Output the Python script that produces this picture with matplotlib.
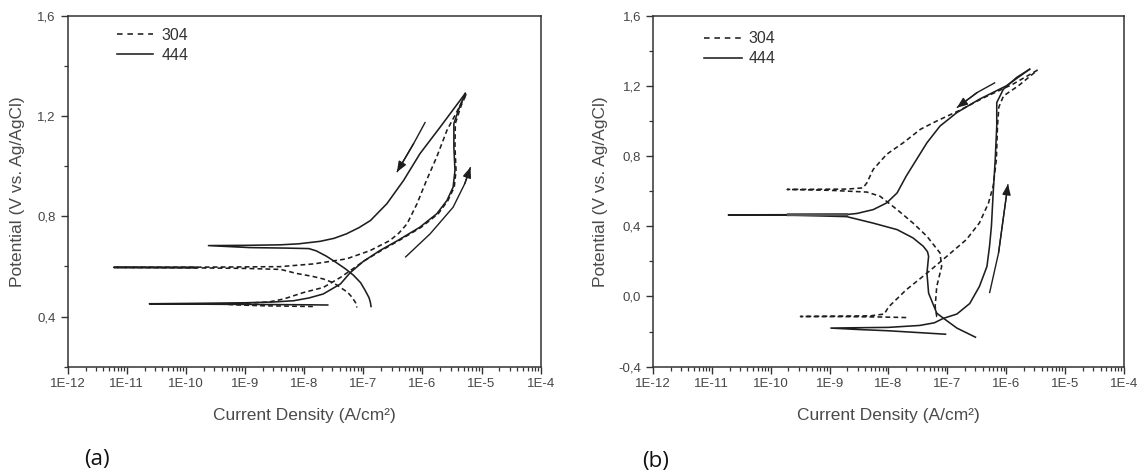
import numpy as np
import matplotlib
matplotlib.use('Agg')
import matplotlib.pyplot as plt
from matplotlib.ticker import LogLocator, FuncFormatter, MultipleLocator, NullFormatter, FixedLocator

plt.rcParams['font.family'] = ['Liberation Sans', 'DejaVu Sans']

# ---------------- data: panel (a) ----------------
a304_fwd_i = [1.4e-8, 7e-9, 2e-9, 8e-10, 3.7e-10, 1e-9, 2.5e-9, 4.5e-9, 9.8e-9, 2.1e-8, 4.1e-8, 6e-8,
              1.05e-7, 2.0e-7, 4.0e-7, 9.5e-7, 1.85e-6, 2.7e-6, 3.45e-6, 3.7e-6, 3.55e-6, 3.6e-6, 4.5e-6, 5.5e-6]
a304_fwd_v = [0.440, 0.441, 0.443, 0.446, 0.450, 0.453, 0.458, 0.470, 0.496, 0.516, 0.556, 0.583,
              0.623, 0.663, 0.703, 0.756, 0.810, 0.863, 0.916, 0.983, 1.076, 1.170, 1.240, 1.287]
a304_rev_i = [5.5e-6, 2.6e-6, 1.74e-6, 1.17e-6, 8.1e-7, 5.5e-7, 4.0e-7, 2.8e-7, 1.3e-7, 5.2e-8, 1.45e-8, 3.9e-9,
              8e-10, 1.5e-10, 6e-12, 1.5e-10, 1e-9, 4e-9, 7.4e-9, 1.4e-8, 2.1e-8, 3.1e-8, 4.1e-8, 5.4e-8,
              6.5e-8, 7.4e-8, 7.8e-8]
a304_rev_v = [1.287, 1.143, 1.036, 0.943, 0.850, 0.770, 0.733, 0.703, 0.663, 0.630, 0.610, 0.599,
              0.598, 0.597, 0.596, 0.594, 0.592, 0.588, 0.572, 0.560, 0.550, 0.535, 0.516, 0.497,
              0.476, 0.455, 0.436]
a444_fwd_i = [2.5e-8, 1e-8, 2e-9, 3e-10, 2.4e-11, 2e-10, 1e-9, 3e-9, 6.6e-9, 1.2e-8, 2.1e-8, 4.1e-8, 6e-8,
              1e-7, 1.9e-7, 3.8e-7, 9e-7, 1.75e-6, 2.6e-6, 3.3e-6, 3.55e-6, 3.4e-6, 3.4e-6, 4.3e-6, 5.3e-6]
a444_fwd_v = [0.446, 0.447, 0.448, 0.449, 0.451, 0.453, 0.455, 0.458, 0.463, 0.474, 0.490, 0.530, 0.575,
              0.620, 0.663, 0.703, 0.756, 0.810, 0.863, 0.916, 0.983, 1.076, 1.170, 1.240, 1.290]
a444_rev_i = [5.3e-6, 2.0e-6, 9.1e-7, 4.8e-7, 2.5e-7, 1.32e-7, 8.5e-8, 5.2e-8, 3.2e-8, 1.86e-8, 8e-9, 3.9e-9,
              1e-9, 2.4e-10, 1.2e-9, 5e-9, 1.2e-8, 1.6e-8, 2.4e-8, 3.5e-8, 5e-8, 6.8e-8, 9e-8, 1.07e-7,
              1.25e-7, 1.32e-7, 1.35e-7]
a444_rev_v = [1.290, 1.156, 1.050, 0.943, 0.850, 0.783, 0.755, 0.730, 0.712, 0.700, 0.690, 0.686,
              0.684, 0.683, 0.675, 0.673, 0.671, 0.662, 0.640, 0.615, 0.590, 0.565, 0.535, 0.505,
              0.475, 0.455, 0.440]
a_arrow1_i = [1.12e-6, 7.1e-7, 3.7e-7]
a_arrow1_v = [1.176, 1.090, 0.976]
a_arrow2_i = [5.1e-7, 1.35e-6, 3.3e-6, 5.2e-6, 6.5e-6]
a_arrow2_v = [0.636, 0.730, 0.836, 0.930, 0.996]

# ---------------- data: panel (b) ----------------
b304_fwd_i = [2e-8, 8e-9, 2e-9, 3.2e-10, 1.5e-9, 5e-9, 8.5e-9, 1.0e-8, 2e-8, 4.5e-8, 9.8e-8, 2.1e-7,
              3.5e-7, 5e-7, 6e-7, 6.8e-7, 7.1e-7, 7.5e-7, 9e-7, 1.6e-6, 3.4e-6]
b304_fwd_v = [-0.120, -0.117, -0.115, -0.114, -0.112, -0.110, -0.100, -0.060, 0.038, 0.133, 0.229, 0.324,
              0.419, 0.533, 0.629, 0.781, 0.971, 1.080, 1.143, 1.200, 1.290]
b304_rev_i = [3.4e-6, 1.3e-6, 4e-7, 1.6e-7, 6.6e-8, 3.5e-8, 1.8e-8, 9.3e-9, 5.5e-9, 4.3e-9, 3.7e-9, 2e-9,
              1.9e-10, 1e-9, 4.3e-9, 7.2e-9, 1.4e-8, 2.6e-8, 4.5e-8, 7.5e-8, 8e-8, 6.6e-8, 6.2e-8, 6.6e-8, 7.5e-8]
b304_rev_v = [1.290, 1.210, 1.130, 1.060, 1.000, 0.953, 0.877, 0.810, 0.724, 0.648, 0.619, 0.612,
              0.610, 0.605, 0.595, 0.571, 0.495, 0.419, 0.343, 0.248, 0.171, 0.057, -0.057, -0.114, -0.120]
b444_fwd_i = [9.3e-8, 3e-8, 9.5e-9, 3e-9, 1.05e-9, 3e-9, 1e-8, 3.4e-8, 6e-8, 8.5e-8, 1.45e-7, 2.4e-7,
              3.5e-7, 4.7e-7, 5.2e-7, 5.6e-7, 6e-7, 6.5e-7, 6.9e-7, 6.9e-7, 8.9e-7, 1.5e-6, 2.5e-6]
b444_fwd_v = [-0.215, -0.205, -0.195, -0.188, -0.180, -0.178, -0.176, -0.165, -0.150, -0.125, -0.100, -0.040,
              0.057, 0.171, 0.286, 0.400, 0.591, 0.781, 0.971, 1.105, 1.180, 1.248, 1.295]
b444_rev_i = [2.5e-6, 1.0e-6, 3.5e-7, 1.45e-7, 7.5e-8, 4.5e-8, 3.0e-8, 2.0e-8, 1.4e-8, 9.3e-9, 5.5e-9,
              2.9e-9, 1.95e-9, 2e-10, 1.9e-11, 2e-10, 1.95e-9, 5.5e-9, 1.4e-8, 2.6e-8, 3.9e-8, 4.6e-8, 4.8e-8,
              4.5e-8, 4.8e-8, 6.6e-8, 8.5e-8, 1.45e-7, 3.0e-7]
b444_rev_v = [1.295, 1.200, 1.124, 1.048, 0.971, 0.876, 0.781, 0.686, 0.590, 0.533, 0.495,
              0.473, 0.467, 0.466, 0.465, 0.464, 0.455, 0.418, 0.381, 0.334, 0.286, 0.255, 0.229,
              0.133, 0.019, -0.095, -0.123, -0.180, -0.232]
b_arrow1_i = [6.5e-7, 3.2e-7, 1.45e-7]
b_arrow1_v = [1.219, 1.162, 1.076]
b_arrow2_i = [5.2e-7, 7.4e-7, 1.07e-6]
b_arrow2_v = [0.019, 0.248, 0.640]

x_decades = [1e-12, 1e-11, 1e-10, 1e-9, 1e-8, 1e-7, 1e-6, 1e-5, 1e-4]
legend_labels = ['304', '444']
panel_labels = ['(a)', '(b)']
xlabel = 'Current Density (A/cm\u00b2)'
ylabel = 'Potential (V vs. Ag/AgCl)'

LC = '#1e1e1e'
DASH = (3.0, 2.0)
LW = 1.15

fig = plt.figure(figsize=(11.46, 4.74), dpi=100)
ax_a = fig.add_axes([0.0591, 0.2264, 0.4127, 0.7405])
ax_b = fig.add_axes([0.5698, 0.2264, 0.4110, 0.7405])


def comma_fmt(v, pos):
    if abs(v) < 1e-9:
        v = 0.0
    return ('%.1f' % v).replace('.', ',')


def dec_fmt(x, pos):
    return '1E%d' % int(round(np.log10(x)))


def style(ax, ylim, ylab_x):
    ax.set_xscale('log')
    ax.set_xlim(x_decades[0], x_decades[-1])
    ax.set_ylim(*ylim)
    ax.xaxis.set_major_locator(FixedLocator(x_decades))
    ax.xaxis.set_major_formatter(FuncFormatter(dec_fmt))
    ax.xaxis.set_minor_locator(LogLocator(base=10, subs=np.arange(2, 10), numticks=20))
    ax.xaxis.set_minor_formatter(NullFormatter())
    ax.yaxis.set_major_locator(MultipleLocator(0.4))
    ax.yaxis.set_minor_locator(MultipleLocator(0.2))
    ax.yaxis.set_major_formatter(FuncFormatter(comma_fmt))
    ax.tick_params(which='both', direction='out', top=False, right=False, color='#333333',
                   labelcolor='#454545', labelsize=9.5, pad=3.5)
    ax.tick_params(which='major', length=5, width=1.0)
    ax.tick_params(which='minor', length=2.8, width=0.9)
    for s in ax.spines.values():
        s.set_color('#333333')
        s.set_linewidth(1.1)
    ax.set_xlabel(xlabel, fontsize=12.5, color='#4a4a4a')
    ax.set_ylabel(ylabel, fontsize=12.5, color='#4a4a4a')
    ax.xaxis.set_label_coords(0.5, -0.138)
    ax.xaxis.label.set_va('center')
    ax.yaxis.set_label_coords(ylab_x, 0.5)
    ax.yaxis.label.set_va('center')


def draw_arrow(ax, xi, yv):
    ax.plot(xi, yv, color=LC, lw=1.0, solid_capstyle='butt')
    ax.annotate('', xy=(xi[-1], yv[-1]), xytext=(xi[-2], yv[-2]),
                arrowprops=dict(arrowstyle='-|>,head_length=0.7,head_width=0.28', color=LC,
                                lw=1.0, mutation_scale=9, shrinkA=0, shrinkB=0))


def draw_panel(ax, s304f, s304r, s444f, s444r):
    l304, = ax.plot(s304f[0], s304f[1], color=LC, lw=LW, ls='--', dashes=DASH, label=legend_labels[0])
    ax.plot(s304r[0], s304r[1], color=LC, lw=LW, ls='--', dashes=DASH)
    l444, = ax.plot(s444f[0], s444f[1], color=LC, lw=LW, label=legend_labels[1])
    ax.plot(s444r[0], s444r[1], color=LC, lw=LW)
    return l304, l444


# ---- panel (a)
h304, h444 = draw_panel(ax_a, (a304_fwd_i, a304_fwd_v), (a304_rev_i, a304_rev_v),
                        (a444_fwd_i, a444_fwd_v), (a444_rev_i, a444_rev_v))
# dense data near the 304 rest-potential tip reads as a solid line
ri = np.array(a304_rev_i)
rv = np.array(a304_rev_v)
ax_a.plot(ri, np.where(ri < 1.6e-10, rv, np.nan), color=LC, lw=LW)
draw_arrow(ax_a, a_arrow1_i, a_arrow1_v)
draw_arrow(ax_a, a_arrow2_i, a_arrow2_v)
style(ax_a, (0.2, 1.6), -0.106)
leg = ax_a.legend(handles=[h304, h444], loc='upper left', bbox_to_anchor=(0.105, 0.965),
                  frameon=False, fontsize=11.5, handlelength=2.2, handletextpad=0.55,
                  labelspacing=0.3, borderpad=0, borderaxespad=0)
leg.get_lines()[0].set_dashes((3.5, 3.0))
for t in leg.get_texts():
    t.set_color('#333333')

# ---- panel (b)
g304, g444 = draw_panel(ax_b, (b304_fwd_i, b304_fwd_v), (b304_rev_i, b304_rev_v),
                        (b444_fwd_i, b444_fwd_v), (b444_rev_i, b444_rev_v))
bi = np.array(b444_rev_i)
bv = np.array(b444_rev_v)
ax_b.plot(bi, np.where((bi > 1.2e-10) & (bi < 2.1e-9) & (bv > 0.46), bv, np.nan), color='#555555', lw=2.2)
draw_arrow(ax_b, b_arrow1_i, b_arrow1_v)
draw_arrow(ax_b, b_arrow2_i, b_arrow2_v)
style(ax_b, (-0.4, 1.6), -0.112)
leg = ax_b.legend(handles=[g304, g444], loc='upper left', bbox_to_anchor=(0.108, 0.955),
                  frameon=False, fontsize=11.5, handlelength=2.4, handletextpad=0.4,
                  labelspacing=0.3, borderpad=0, borderaxespad=0)
leg.get_lines()[0].set_dashes((3.5, 3.0))
for t in leg.get_texts():
    t.set_color('#333333')

fig.text(96.7 / 1146, 1 - 460 / 474, panel_labels[0], family=['Open Sans', 'DejaVu Sans'],
         fontsize=16, ha='center', va='center', color='#111111')
fig.text(656 / 1146, 1 - 461 / 474, panel_labels[1], family=['Open Sans', 'DejaVu Sans'],
         fontsize=16, ha='center', va='center', color='#111111')

fig.savefig('out.png', dpi=100, facecolor='white')
